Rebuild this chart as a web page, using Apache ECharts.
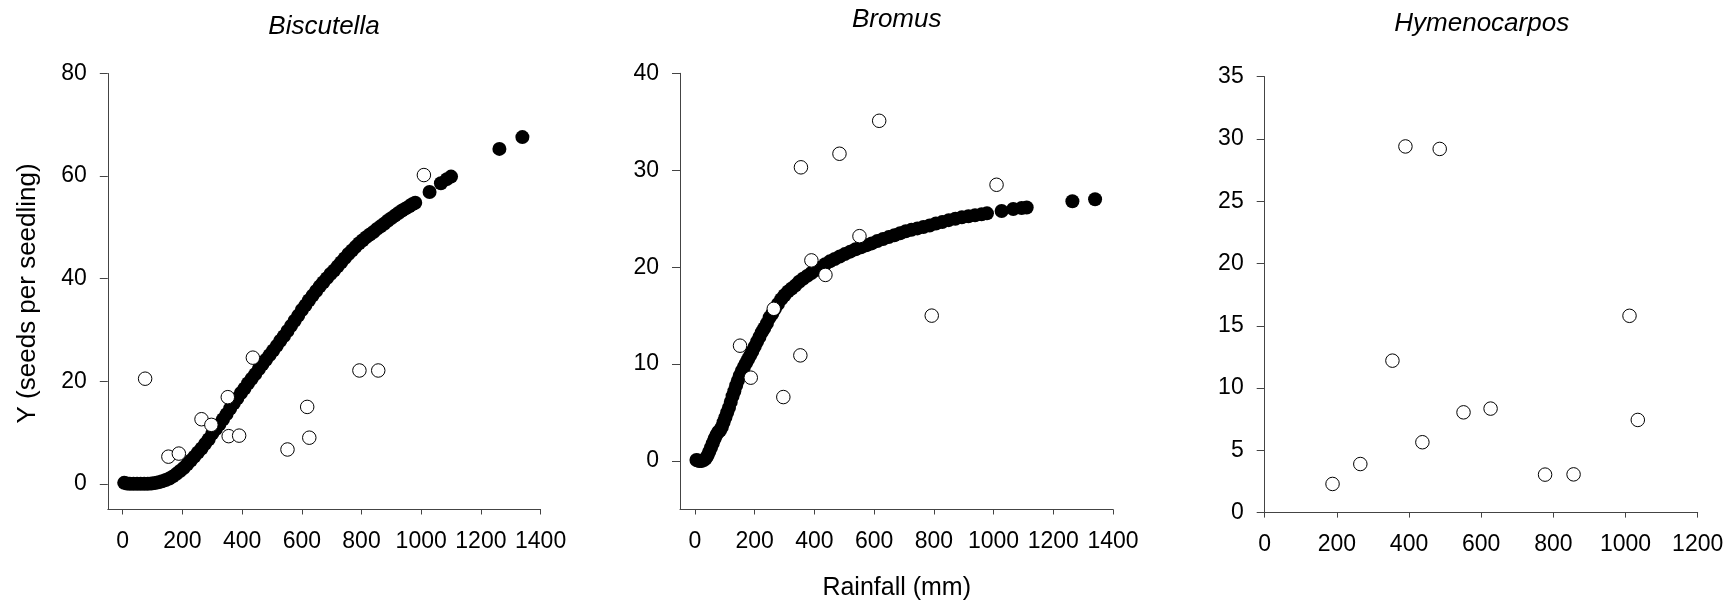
<!DOCTYPE html>
<html>
<head>
<meta charset="utf-8">
<title>Seeds per seedling vs rainfall</title>
<script src="https://cdn.jsdelivr.net/npm/echarts@6/dist/echarts.min.js"></script>
<style>
  html, body { margin: 0; padding: 0; background: #fff; }
  #chart { width: 1733px; height: 606px; }
</style>
</head>
<body>
<div id="chart"></div>
<script>
// species panels
const species = ['Biscutella', 'Bromus', 'Hymenocarpos']

// tick labels
const rainTicks = [0, 200, 400, 600, 800, 1000, 1200, 1400]
const bisYTicks = [0, 20, 40, 60, 80]
const broYTicks = [0, 10, 20, 30, 40]

// Biscutella - fitted values (filled) and observed (open)
const bisFitted = [
  [5, 0.2], [14, 0.05], [24, 0], [36, 0], [48, 0], [60, 0], [72, 0], [84, 0], [96, 0.05],
  [108, 0.15], [120, 0.3], [132, 0.5], [144, 0.75], [156, 1.05], [168, 1.45], [180, 1.95],
  [192, 2.5], [204, 3.1], [216, 3.8], [228, 4.55], [240, 5.3], [252, 6.1], [264, 6.9],
  [276, 7.8], [288, 8.7], [300, 9.8], [312, 10.7], [324, 11.6], [336, 12.6], [348, 13.6],
  [360, 14.7], [372, 15.7], [384, 16.7], [396, 17.7], [408, 18.6], [420, 19.6], [432, 20.5],
  [444, 21.4], [456, 22.4], [468, 23.3], [480, 24.2], [492, 25.1], [504, 26.0], [516, 26.9],
  [528, 27.9], [540, 28.8], [552, 29.8], [564, 30.8], [576, 31.8], [588, 32.8], [600, 33.9],
  [612, 34.8], [624, 35.8], [636, 36.7], [648, 37.6], [660, 38.5], [672, 39.3], [684, 40.1],
  [696, 40.9], [708, 41.6], [720, 42.4], [732, 43.2], [744, 44.0], [756, 44.8], [768, 45.5],
  [780, 46.2], [792, 46.9], [804, 47.5], [816, 48.1], [828, 48.6], [840, 49.1], [852, 49.7],
  [864, 50.2], [876, 50.7], [888, 51.3], [900, 51.8], [912, 52.3], [924, 52.8], [936, 53.3],
  [948, 53.7], [960, 54.1], [970, 54.5], [980, 54.8],
  [1028, 56.9], [1066, 58.6], [1086, 59.4], [1100, 59.9], [1262, 65.3], [1339, 67.6]
]
const bisObserved = [
  [75, 20.5], [153, 5.3], [188, 5.9], [264, 12.6], [297, 11.5], [352, 16.9], [355, 9.3],
  [390, 9.4], [436, 24.6], [552, 6.7], [618, 15.0], [625, 9.0], [793, 22.1], [856, 22.1],
  [1009, 60.2]
]

// Bromus
const broFitted = [
  [5, 0.1], [10, 0.05], [15, 0], [22, 0], [30, 0.1], [36, 0.25], [42, 0.55], [48, 0.95],
  [54, 1.4], [60, 1.85], [66, 2.3], [72, 2.7], [78, 3.0], [84, 3.15], [90, 3.5], [96, 4.0],
  [102, 4.5], [108, 5.0], [114, 5.5], [120, 6.1], [126, 6.7], [132, 7.2], [138, 7.8],
  [144, 8.3], [150, 8.8], [157, 9.3], [164, 9.7], [171, 10.1], [178, 10.5], [185, 10.9],
  [192, 11.3], [200, 11.8], [208, 12.3], [216, 12.8], [224, 13.3], [232, 13.7], [241, 14.2],
  [250, 14.8], [259, 15.2], [268, 15.7], [278, 16.2], [289, 16.7], [300, 17.1], [312, 17.5],
  [324, 17.8], [336, 18.1], [349, 18.5], [362, 18.8], [376, 19.1], [390, 19.4], [405, 19.7],
  [420, 19.95], [436, 20.3], [452, 20.6], [468, 20.85], [485, 21.1], [502, 21.35], [520, 21.6],
  [538, 21.85], [556, 22.05], [574, 22.25], [592, 22.45], [611, 22.7], [630, 22.9], [649, 23.1],
  [668, 23.3], [687, 23.5], [706, 23.7], [725, 23.85], [745, 24.0], [765, 24.15], [786, 24.3],
  [807, 24.5], [828, 24.65], [850, 24.85], [872, 25.0], [894, 25.15], [916, 25.25],
  [938, 25.35], [960, 25.45], [978, 25.55],
  [1027, 25.8], [1066, 26.0], [1094, 26.1], [1111, 26.15], [1264, 26.8], [1340, 27.0]
]
const broObserved = [
  [617, 35.1], [484, 31.7], [355, 30.3], [1010, 28.5], [551, 23.2], [390, 20.7], [437, 19.2],
  [264, 15.7], [793, 15.0], [151, 11.9], [353, 10.9], [187, 8.6], [296, 6.6]
]

// Hymenocarpos (observed only)
const hymObserved = [
  [188, 2.3], [265, 3.9], [354, 12.2], [437, 5.65], [551, 8.05], [626, 8.35], [777, 3.05],
  [856, 3.07], [1034, 7.44], [390, 29.4], [485, 29.2], [1011, 15.8]
]

const FONT = 'Arial, "Liberation Sans", sans-serif'
const AXIS_COLOR = '#444'

const grids = [
  { left: 107.8, top: 73.5, width: 432.8, height: 436 },
  { left: 680, top: 73.3, width: 433, height: 436.2 },
  { left: 1264.7, top: 76.7, width: 433, height: 435.9 }
]

// plain numbers, no thousands separator
const plainNumber = (v) => String(v)

const makeAxis = (kind, gridIndex, min, max, ticks, interval) => {
  const axis = {
    type: 'value',
    gridIndex,
    min,
    max,
    position: kind === 'x' ? 'bottom' : 'left',
    splitLine: { show: false },
    axisLine: { show: true, onZero: false, lineStyle: { color: AXIS_COLOR, width: 1 } },
    axisTick: { show: true, length: kind === 'x' ? 5 : 8, lineStyle: { color: AXIS_COLOR } },
    axisLabel: { color: '#000', fontSize: 23, fontFamily: FONT, margin: 21, formatter: plainNumber }
  }
  if (ticks) {
    axis.axisTick.customValues = ticks
    axis.axisLabel.customValues = ticks
  } else {
    axis.interval = interval
  }
  return axis
}

const filled = (idx, data) => ({
  type: 'scatter',
  xAxisIndex: idx,
  yAxisIndex: idx,
  data,
  symbol: 'circle',
  symbolSize: 14,
  itemStyle: { color: '#000', opacity: 1 },
  z: 2
})

const open = (idx, data) => ({
  type: 'scatter',
  xAxisIndex: idx,
  yAxisIndex: idx,
  data,
  symbol: 'circle',
  symbolSize: 13.5,
  itemStyle: { color: '#fff', borderColor: '#000', borderWidth: 1, opacity: 1 },
  z: 3
})

const textEl = (text, x, y, size, italic, rotation) => ({
  type: 'text',
  x,
  y,
  rotation: rotation || 0,
  style: {
    text,
    font: (italic ? 'italic ' : '') + size + 'px ' + FONT,
    fill: '#000',
    textAlign: 'center',
    textVerticalAlign: 'middle'
  }
})

const chart = echarts.init(document.getElementById('chart'))

chart.setOption({
  animation: false,
  backgroundColor: '#fff',
  grid: grids,
  xAxis: [
    makeAxis('x', 0, -50, 1400, rainTicks),
    makeAxis('x', 1, -50, 1400, rainTicks),
    makeAxis('x', 2, 0, 1200, null, 200)
  ],
  yAxis: [
    makeAxis('y', 0, -5, 80, bisYTicks),
    makeAxis('y', 1, -5, 40, broYTicks),
    makeAxis('y', 2, 0, 35, null, 5)
  ],
  series: [
    filled(0, bisFitted),
    open(0, bisObserved),
    filled(1, broFitted),
    open(1, broObserved),
    open(2, hymObserved)
  ],
  graphic: [
    textEl(species[0], 324, 26.3, 26, true),
    textEl(species[1], 896.7, 19.3, 26, true),
    textEl(species[2], 1481.7, 23.3, 26, true),
    textEl('Y (seeds per seedling)', 27.6, 293.4, 26, false, Math.PI / 2),
    textEl('Rainfall (mm)', 896.7, 588.3, 25, false)
  ]
})
</script>
</body>
</html>
